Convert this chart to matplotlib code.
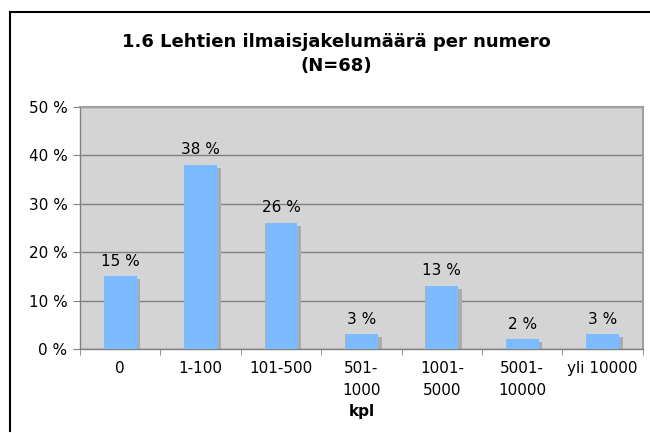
import matplotlib.pyplot as plt
from matplotlib.lines import Line2D

categories = ['0', '1-100', '101-500', '501-\n1000', '1001-\n5000', '5001-\n10000', 'yli 10000']
values = [15, 38, 26, 3, 13, 2, 3]

fig = plt.figure(figsize=(6.5, 4.33), dpi=100)
ax = fig.add_axes([0.123, 0.194, 0.866, 0.559])

x = range(len(categories))
w = 0.41
# varjo palkkien takana
ax.bar([i + 0.045 for i in x], [v - 0.6 for v in values], bottom=0, width=w,
       color='#ABABAB', zorder=2)
ax.bar(x, values, width=w, color='#7EBAFF', zorder=3)

for i, v in enumerate(values):
    ax.text(i, v + 1.6, f'{v} %', ha='center', va='bottom', fontsize=11, color='black')

ax.set_facecolor('#D4D4D4')
ax.set_ylim(0, 50)
ax.set_xlim(-0.5, len(categories) - 0.5)
ax.set_yticks(range(0, 51, 10))
ax.set_yticklabels([f'{t} %' for t in range(0, 51, 10)], fontsize=11)
ax.yaxis.grid(True, color='#808080', linewidth=1)
ax.set_axisbelow(True)

ax.set_xticks(list(x))
ax.set_xticklabels(categories, fontsize=11, va='top', linespacing=1.55)
ax.set_xticks([i + 0.5 for i in range(-1, len(categories))], minor=True)
ax.tick_params(axis='x', which='major', length=0, pad=9)
ax.tick_params(axis='x', which='minor', length=4, color='#808080')
ax.tick_params(axis='y', length=5, color='#808080', pad=4)

for s in ax.spines.values():
    s.set_color('#A0A0A0')
    s.set_linewidth(1.5)
ax.spines['left'].set_color('#808080')
ax.spines['left'].set_linewidth(1)
ax.spines['bottom'].set_color('#808080')
ax.spines['bottom'].set_linewidth(1)

ax.set_xlabel('kpl', fontsize=11, fontweight='bold', labelpad=4)

fig.text(0.518, 0.875, '1.6 Lehtien ilmaisjakelumäärä per numero\n(N=68)',
         ha='center', va='center', fontsize=13, fontweight='bold', linespacing=1.4)

# kehys
fig.add_artist(Line2D([10/650, 1], [1 - 12/433, 1 - 12/433], color='black', lw=1.5))
fig.add_artist(Line2D([10/650, 10/650], [1 - 12/433, 0.005], color='black', lw=1.5))

fig.savefig('out.png', dpi=100)
